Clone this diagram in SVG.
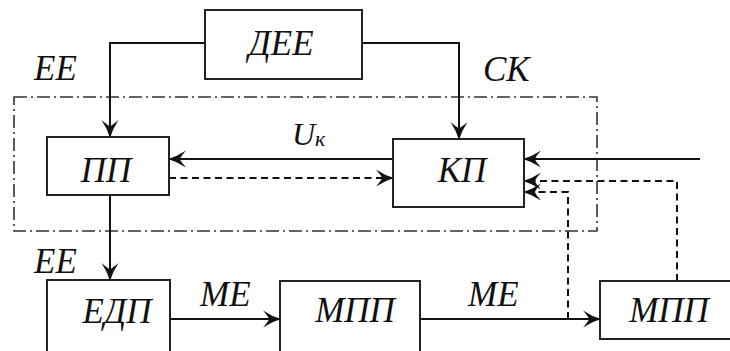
<svg xmlns="http://www.w3.org/2000/svg" width="730" height="351" viewBox="0 0 730 351">
  <style>
    .box { fill: #fff; stroke: #222; stroke-width: 2; }
    .wire { fill: none; stroke: #111; stroke-width: 2; }
    .dash { fill: none; stroke: #111; stroke-width: 2; stroke-dasharray: 7 4.5; }
    .frame { fill: none; stroke: #333; stroke-width: 1.6; stroke-dasharray: 13 4 2 4; }
    .mid { text-anchor: middle; }
  </style>
  <defs>
    <marker id="arr" markerUnits="userSpaceOnUse" markerWidth="22" markerHeight="20" viewBox="-19 -10 22 20" refX="0" refY="0" orient="auto">
      <path d="M1,0 Q-8,-2.5 -17,-8.5 Q-11,-1.5 -11,0 Q-11,1.5 -17,8.5 Q-8,2.5 1,0 Z" fill="#111"/>
    </marker>
  </defs>

  <!-- dash-dot boundary around ПП and КП -->
  <rect class="frame" x="14" y="97" width="583" height="134"/>

  <g id="connectors">
    <!-- ДЕЕ outputs -->
    <path class="wire" d="M205,43 H110 V137" marker-end="url(#arr)"/>
    <path class="wire" d="M362,43 H459 V139" marker-end="url(#arr)"/>
    <!-- U_k: КП -> ПП -->
    <path class="wire" d="M393,159 H169" marker-end="url(#arr)"/>
    <!-- ПП -> КП feedback (dashed) -->
    <path class="dash" d="M169,178 H393" marker-end="url(#arr)"/>
    <!-- external input to КП -->
    <path class="wire" d="M700,159 H524" marker-end="url(#arr)"/>
    <!-- dashed returns to КП -->
    <path class="dash" d="M677,281 V181 H524" marker-end="url(#arr)"/>
    <path class="dash" d="M568,319 V192 H524" marker-end="url(#arr)"/>
    <!-- ПП -> ЕДП -->
    <path class="wire" d="M110,195 V280" marker-end="url(#arr)"/>
    <!-- ME chain -->
    <path class="wire" d="M170,319 H280" marker-end="url(#arr)"/>
    <path class="wire" d="M420,319 H600" marker-end="url(#arr)"/>
  </g>

  <g font-family="Liberation Serif, serif" font-style="italic" font-size="35" fill="#111">
    <g id="dee">
      <rect class="box" x="205" y="10" width="157" height="69"/>
      <text class="mid" x="281" y="55">ДЕЕ</text>
    </g>
    <g id="pp">
      <rect class="box" x="47" y="137" width="122" height="58"/>
      <text class="mid" x="106" y="182">ПП</text>
    </g>
    <g id="kp">
      <rect class="box" x="393" y="139" width="131" height="68"/>
      <text class="mid" x="462" y="182">КП</text>
    </g>
    <g id="edp">
      <rect class="box" x="47" y="280" width="123" height="74"/>
      <text class="mid" x="117" y="323">ЕДП</text>
    </g>
    <g id="mpp1">
      <rect class="box" x="280" y="281" width="140" height="73"/>
      <text class="mid" x="355" y="322">МПП</text>
    </g>
    <g id="mpp2">
      <rect class="box" x="600" y="281" width="140" height="58"/>
      <text class="mid" x="669" y="322">МПП</text>
    </g>

    <g id="labels">
      <text x="34" y="80">ЕЕ</text>
      <text x="483" y="81">СК</text>
      <text x="292" y="145" font-size="32">U<tspan font-size="22" dy="1">к</tspan></text>
      <text x="34" y="273">ЕЕ</text>
      <text x="200" y="306">МЕ</text>
      <text x="468" y="306">МЕ</text>
    </g>
  </g>
</svg>
